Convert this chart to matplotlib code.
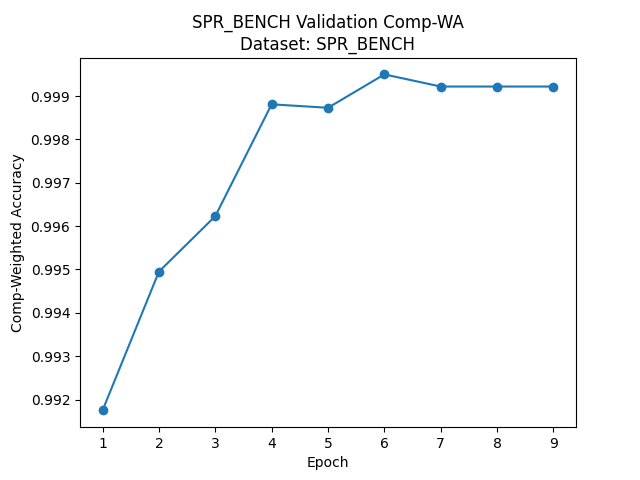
import matplotlib
matplotlib.use("Agg")
import matplotlib.pyplot as plt

epochs = [1, 2, 3, 4, 5, 6, 7, 8, 9]
comp_wa = [0.99175, 0.99495, 0.99623, 0.99881, 0.99873, 0.99950, 0.99922, 0.99922, 0.99922]

fig, ax = plt.subplots(figsize=(6.4, 4.8), dpi=100)
ax.plot(epochs, comp_wa, marker="o")
ax.set_title("SPR_BENCH Validation Comp-WA\nDataset: SPR_BENCH")
ax.set_xlabel("Epoch")
ax.set_ylabel("Comp-Weighted Accuracy")
fig.savefig("out.png")
